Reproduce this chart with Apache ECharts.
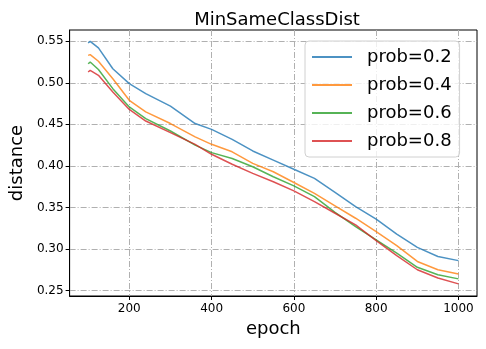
<!DOCTYPE html>
<html>
<head>
<meta charset="utf-8">
<script src="https://cdn.jsdelivr.net/npm/echarts@6/dist/echarts.min.js"></script>
<style>
  html, body { margin: 0; padding: 0; background: #fff; }
  #chart { width: 486px; height: 349px; }
</style>
</head>
<body>
<div id="chart"></div>
<script>
  var epochs = [100, 105, 125, 160, 200, 240, 300, 360, 400, 450, 500, 550, 600, 650, 700, 750, 800, 850, 900, 950, 1000];
  var prob02 = [0.548, 0.550, 0.542, 0.517, 0.499, 0.487, 0.472, 0.451, 0.444, 0.432, 0.418, 0.407, 0.396, 0.385, 0.368, 0.351, 0.336, 0.318, 0.302, 0.291, 0.286];
  var prob04 = [0.533, 0.534, 0.526, 0.505, 0.479, 0.465, 0.451, 0.435, 0.426, 0.417, 0.403, 0.393, 0.380, 0.367, 0.352, 0.337, 0.321, 0.304, 0.285, 0.275, 0.270];
  var prob06 = [0.523, 0.525, 0.516, 0.493, 0.471, 0.457, 0.442, 0.425, 0.416, 0.409, 0.399, 0.387, 0.376, 0.363, 0.344, 0.327, 0.311, 0.295, 0.278, 0.269, 0.264];
  var prob08 = [0.513, 0.515, 0.509, 0.489, 0.468, 0.454, 0.440, 0.426, 0.414, 0.402, 0.391, 0.381, 0.370, 0.357, 0.343, 0.329, 0.310, 0.292, 0.275, 0.265, 0.258];
  var names = ['prob=0.2', 'prob=0.4', 'prob=0.6', 'prob=0.8'];
  var xTicks = [200, 400, 600, 800, 1000];
  var yTicks = [0.25, 0.30, 0.35, 0.40, 0.45, 0.50, 0.55];

  var colors = ['rgba(31,119,180,0.8)', 'rgba(255,127,14,0.8)', 'rgba(44,160,44,0.8)', 'rgba(214,39,40,0.8)'];
  var font = 'DejaVu Sans';

  function pairs(vals) {
    return epochs.map(function (e, i) { return [e, vals[i]]; });
  }

  var gridLine = { show: true, lineStyle: { color: '#b0b0b0', width: 1, type: [6, 2, 1, 2] } };

  var chart = echarts.init(document.getElementById('chart'));
  var option = {
    animation: false,
    color: colors,
    title: {
      text: 'MinSameClassDist',
      left: 272, top: 6, textAlign: 'center',
      textStyle: { fontFamily: font, fontSize: 18, fontWeight: 'normal', color: '#000' }
    },
    grid: { left: 68, right: 9, top: 30, bottom: 53, show: true, borderColor: '#000', borderWidth: 1 },
    legend: {
      data: names,
      orient: 'vertical',
      left: 305, top: 41,
      padding: [6, 8, 6, 7],
      itemGap: 8,
      itemWidth: 40, itemHeight: 2,
      icon: 'rect',
      backgroundColor: 'rgba(255,255,255,0.8)',
      borderColor: '#d0d0d0', borderWidth: 1, borderRadius: 4,
      textStyle: { fontFamily: font, fontSize: 18, lineHeight: 20, color: '#000', padding: [0, 0, 0, 10] }
    },
    xAxis: {
      type: 'value', min: 55, max: 1045,
      name: 'epoch', nameLocation: 'middle', nameGap: 22,
      nameTextStyle: { fontFamily: font, fontSize: 18, color: '#000' },
      axisLine: { show: true, lineStyle: { color: '#000' } },
      axisTick: { show: true, length: 4, customValues: xTicks, lineStyle: { color: '#000' } },
      axisLabel: {
        customValues: xTicks, fontFamily: font, fontSize: 12, color: '#000', margin: 7,
        formatter: function (v) { return String(v); }
      },
      splitLine: gridLine
    },
    yAxis: {
      type: 'value', min: 0.2434, max: 0.5636,
      name: 'distance', nameLocation: 'middle', nameGap: 40,
      nameTextStyle: { fontFamily: font, fontSize: 18, color: '#000' },
      axisLine: { show: true, lineStyle: { color: '#000' } },
      axisTick: { show: true, length: 4, customValues: yTicks, lineStyle: { color: '#000' } },
      axisLabel: {
        customValues: yTicks, fontFamily: font, fontSize: 12, color: '#000', margin: 6,
        formatter: function (v) { return v.toFixed(2); }
      },
      splitLine: gridLine
    },
    series: [prob02, prob04, prob06, prob08].map(function (vals, i) {
      return {
        name: names[i], type: 'line', data: pairs(vals),
        showSymbol: false, symbol: 'none',
        lineStyle: { width: 1.5 }
      };
    })
  };
  chart.setOption(option);
</script>
</body>
</html>
